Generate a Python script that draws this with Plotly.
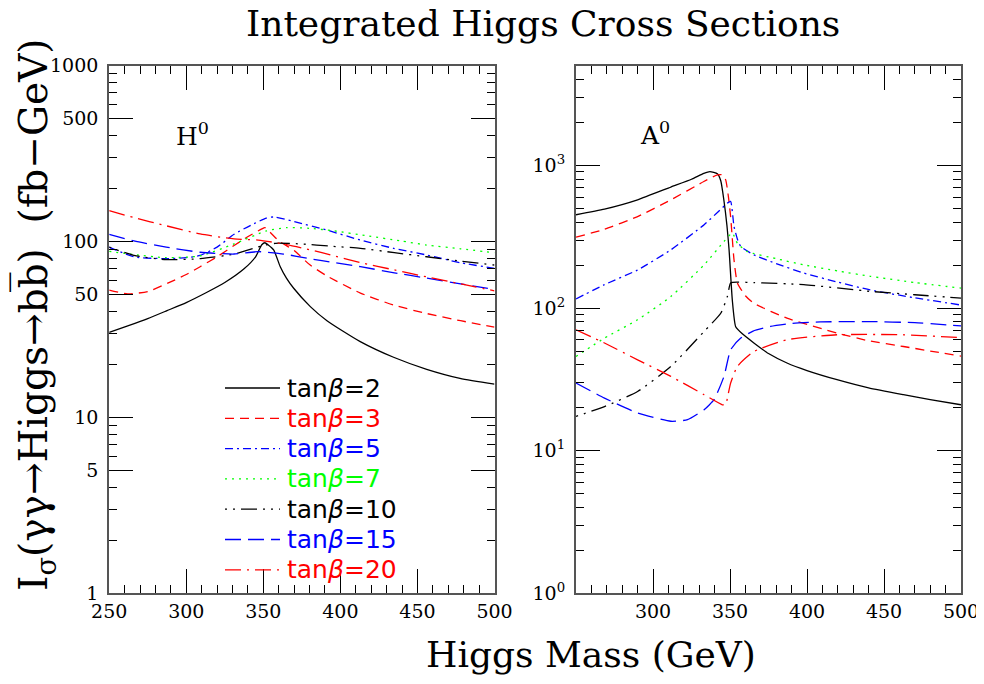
import plotly.graph_objects as go

# ---------------- Left panel: H0 ----------------
H_tb2_m = [250, 262.5, 275, 287.5, 300, 312.5, 325, 337.5, 345, 349, 351, 353, 356.7, 361, 365, 369.7, 380.5, 391.3, 412.9, 434.5, 456, 477.6, 500]
H_tb2_v = [30.5, 33.3, 36.5, 40.5, 45, 51, 58.5, 70, 82, 96, 98.5, 96, 89.6, 72, 62, 54.3, 42.7, 35.5, 27, 22, 18.8, 16.7, 15.5]

H_tb3_m = [250, 262, 275, 288, 300, 309, 320, 331, 341, 349, 351, 354, 360, 370, 380, 391, 413, 434.5, 456, 478, 500]
H_tb3_v = [53, 50.5, 52, 58, 65, 72, 82, 95, 108, 118, 120, 114, 101, 89, 74, 64, 51, 43.6, 39, 35.5, 32.6]

H_tb5_m = [250, 266, 287, 300, 309, 320, 331, 342, 352, 357, 370, 391, 413, 434.5, 456, 477.6, 500]
H_tb5_v = [93, 82, 80, 81, 83.5, 93, 110, 124, 136, 138, 130, 116.4, 102, 91.6, 83.9, 75.9, 70.5]

H_tb7_m = [250, 266, 287, 309, 331, 352, 365, 380, 396, 417, 439, 456, 478, 500]
H_tb7_v = [88, 84.5, 81, 83, 97, 115, 120, 119, 115, 108, 101, 95.6, 91, 86.5]

H_tb10_m = [250, 266, 287, 309, 331, 350, 358, 374, 395, 413, 435, 456, 478, 500]
H_tb10_v = [93, 83.5, 79, 80, 85, 95, 97.8, 97, 94, 91.6, 86.5, 82, 77.5, 73.6]

H_tb15_m = [250, 266, 287, 309, 331, 346.7, 363, 380, 396, 413, 435, 456, 478, 500]
H_tb15_v = [110, 101, 93, 87, 85, 87.7, 85, 80, 76, 72, 66.5, 62, 57.5, 53.5]

H_tb20_m = [250, 266, 287, 309, 331, 346.7, 363, 380, 396, 413, 435, 456, 478, 500]
H_tb20_v = [150, 137, 123, 110.5, 103.5, 102, 97, 90, 83, 76, 69, 63, 57.5, 52.5]

# ---------------- Right panel: A0 ----------------
A_tb2_m = [250, 268.5, 290, 311.6, 325, 333, 337, 341.8, 344, 346, 348, 349.4, 351.5, 353.7, 358, 365.5, 375, 387, 400, 419.5, 440, 462.6, 480, 500]
A_tb2_v = [451, 494, 574, 705, 800, 880, 906, 873, 780, 574, 380, 256, 114, 74, 66, 57, 48, 41.2, 36.5, 31.5, 27.6, 24.7, 22.8, 21]

A_tb3_m = [250, 268.5, 290, 311.6, 333, 341.8, 345, 347.2, 349, 350.4, 352.6, 354.8, 360, 365.5, 387, 419.5, 440, 462.6, 480, 500]
A_tb3_v = [314, 357, 438, 574, 771, 859, 860, 792, 600, 438, 218, 150, 122, 108, 85, 66.8, 59, 53.8, 50, 46]

A_tb5_m = [250, 268.5, 290, 311.6, 333.2, 342, 348.3, 350.4, 352.6, 355, 357, 365.5, 380, 397.9, 420, 441, 470, 500]
A_tb5_v = [116, 146, 185, 256, 384, 470, 544, 559, 373, 300, 270, 236, 205, 176, 152, 134, 118, 105]

A_tb7_m = [250, 268.5, 290, 311.6, 333.2, 346.1, 351.5, 354.8, 361.3, 380, 397.9, 420, 441, 470, 500]
A_tb7_v = [45.8, 61.6, 82.8, 120.5, 201, 293, 336, 285, 249, 222, 201, 182, 167, 151, 138]

A_tb10_m = [250, 268.5, 290, 311.6, 333.2, 344, 348.3, 350.4, 355, 365.5, 397.9, 441, 470, 500]
A_tb10_v = [17.4, 20.4, 26, 39, 68.6, 92, 120.5, 150, 152, 151, 146, 131, 124, 117.5]

A_tb15_m = [250, 268.5, 290, 311.6, 322.4, 333.2, 339.6, 346.1, 350.4, 357, 365, 376.3, 390, 408.7, 441, 470, 500]
A_tb15_v = [29.8, 23.4, 18.4, 16.1, 16.5, 19.4, 22.8, 33.2, 51, 61.6, 69, 74.3, 78, 80, 80.4, 79, 75]

A_tb20_m = [250, 268.5, 290, 311.6, 333.2, 345, 347.2, 348.5, 350.4, 354.8, 365.5, 387, 419.5, 462.6, 500]
A_tb20_v = [70.5, 56.9, 43.4, 33.2, 24.7, 21, 21, 24, 29.8, 39, 49.6, 60, 65, 65, 62]

tanb_labels = ["2", "3", "5", "7", "10", "15", "20"]
colors = ["#000000", "#ff0000", "#0000ff", "#00ff00", "#000000", "#0000ff", "#ff0000"]
dashes = ["solid", "9px,6px", "8px,4px,2px,4px", "2px,5px",
          "2px,6px,2px,6px,16px,6px", "16px,7px", "16px,6px,2px,6px"]

H_series = [(H_tb2_m, H_tb2_v), (H_tb3_m, H_tb3_v), (H_tb5_m, H_tb5_v), (H_tb7_m, H_tb7_v),
            (H_tb10_m, H_tb10_v), (H_tb15_m, H_tb15_v), (H_tb20_m, H_tb20_v)]
A_series = [(A_tb2_m, A_tb2_v), (A_tb3_m, A_tb3_v), (A_tb5_m, A_tb5_v), (A_tb7_m, A_tb7_v),
            (A_tb10_m, A_tb10_v), (A_tb15_m, A_tb15_v), (A_tb20_m, A_tb20_v)]

x_ticks = [250, 300, 350, 400, 450, 500]
x_minor = list(range(260, 500, 10))
yL_ticks = [1, 5, 10, 50, 100, 500, 1000]
yR_ticks = [1, 10, 100, 1000]
yR_text = ["10<sup>0</sup>", "10<sup>1</sup>", "10<sup>2</sup>", "10<sup>3</sup>"]
y_minor = [d * 10 ** e for e in range(0, 4) for d in range(2, 10)]

# figure sized to fit inside the page body margin (8px) of the 984x684 window
W, H, OFF = 976, 668, 8


def fx(px):
    return (px - OFF) / W


def fy(py):
    return 1 - (py - OFF) / H


fig = go.Figure()

for i, (m, v) in enumerate(H_series):
    fig.add_trace(go.Scatter(
        x=m, y=v, mode="lines", xaxis="x", yaxis="y",
        line=dict(color=colors[i], width=1.3, dash=dashes[i], shape="spline", smoothing=0.6),
        name="tanβ=" + tanb_labels[i], showlegend=False))

for i, (m, v) in enumerate(A_series):
    fig.add_trace(go.Scatter(
        x=m, y=v, mode="lines", xaxis="x2", yaxis="y2",
        line=dict(color=colors[i], width=1.3, dash=dashes[i], shape="spline", smoothing=0.5),
        name="tanβ=" + tanb_labels[i], showlegend=False))

tickfont = dict(family="DejaVu Serif", size=19, color="black")
common_x = dict(range=[250, 500], ticks="inside", ticklen=24, tickwidth=1, tickcolor="black",
                showline=True, linecolor="#555", linewidth=2, mirror="allticks",
                showgrid=False, zeroline=False, tickfont=tickfont, automargin=False,
                ticklabeloverflow="allow",
                minor=dict(ticks="inside", ticklen=8, tickwidth=1, tickcolor="black",
                           tickmode="array", tickvals=x_minor, showgrid=False))
common_y = dict(type="log", ticks="inside", ticklen=24, tickwidth=1, tickcolor="black",
                showline=True, linecolor="#555", linewidth=2, mirror="allticks",
                showgrid=False, zeroline=False, tickfont=tickfont, automargin=False,
                ticklabelstandoff=5, ticklabeloverflow="allow",
                minor=dict(ticks="inside", ticklen=8, tickwidth=1, tickcolor="black",
                           tickmode="array", tickvals=y_minor, showgrid=False))

annotations = [
    dict(text="Integrated Higgs Cross Sections", xref="paper", yref="paper",
         x=fx(543), y=fy(24), xanchor="center", yanchor="middle", showarrow=False,
         font=dict(family="DejaVu Serif", size=36, color="black")),
    dict(text="Higgs Mass (GeV)", xref="paper", yref="paper",
         x=fx(591), y=fy(654), xanchor="center", yanchor="middle", showarrow=False,
         font=dict(family="DejaVu Serif", size=36, color="black")),
    dict(text="I<sub>σ</sub>(γγ→Higgs→bb\u0305)  (fb−GeV)", xref="paper", yref="paper",
         x=fx(35), y=fy(315), xanchor="center", yanchor="middle", showarrow=False, textangle=-90,
         font=dict(family="DejaVu Serif", size=39, color="black")),
    dict(text="H<sup>0</sup>", xref="paper", yref="paper",
         x=fx(192), y=fy(135), xanchor="center", yanchor="middle", showarrow=False,
         font=dict(family="DejaVu Serif", size=25, color="black")),
    dict(text="A<sup>0</sup>", xref="paper", yref="paper",
         x=fx(655), y=fy(133), xanchor="center", yanchor="middle", showarrow=False,
         font=dict(family="DejaVu Serif", size=25, color="black")),
]

# legend (key) inside the left panel
shapes = []
leg_y0, leg_dy = 388, 30.3
for i in range(len(tanb_labels)):
    yy = leg_y0 + i * leg_dy
    shapes.append(dict(type="line", xref="paper", yref="paper",
                       x0=fx(225), x1=fx(280), y0=fy(yy), y1=fy(yy),
                       line=dict(color=colors[i], width=1.3, dash=dashes[i])))
    annotations.append(dict(text="tan<i>β</i>=" + tanb_labels[i], xref="paper", yref="paper",
                            x=fx(285), y=fy(yy), xanchor="left", yanchor="middle", showarrow=False,
                            font=dict(family="DejaVu Sans", size=25, color=colors[i])))

fig.update_layout(
    width=W, height=H,
    margin=dict(l=0, r=0, t=0, b=0, autoexpand=False),
    paper_bgcolor="white", plot_bgcolor="white",
    showlegend=False,
    xaxis=dict(domain=[fx(109.2), fx(494.5)], anchor="y",
               tickmode="array", tickvals=x_ticks, ticktext=[str(t) for t in x_ticks], **common_x),
    yaxis=dict(domain=[fy(593.4), fy(65.7)], anchor="x", range=[0, 3],
               tickmode="array", tickvals=yL_ticks, ticktext=[str(t) for t in yL_ticks], **common_y),
    xaxis2=dict(domain=[fx(576), fx(961)], anchor="y2",
                tickmode="array", tickvals=x_ticks, ticktext=[""] + [str(t) for t in x_ticks[1:]], **common_x),
    yaxis2=dict(domain=[fy(593.4), fy(65.7)], anchor="x2", range=[0, 3.699],
                tickmode="array", tickvals=yR_ticks, ticktext=yR_text, **common_y),
    annotations=annotations,
    shapes=shapes,
)

fig.write_html("out.html")
